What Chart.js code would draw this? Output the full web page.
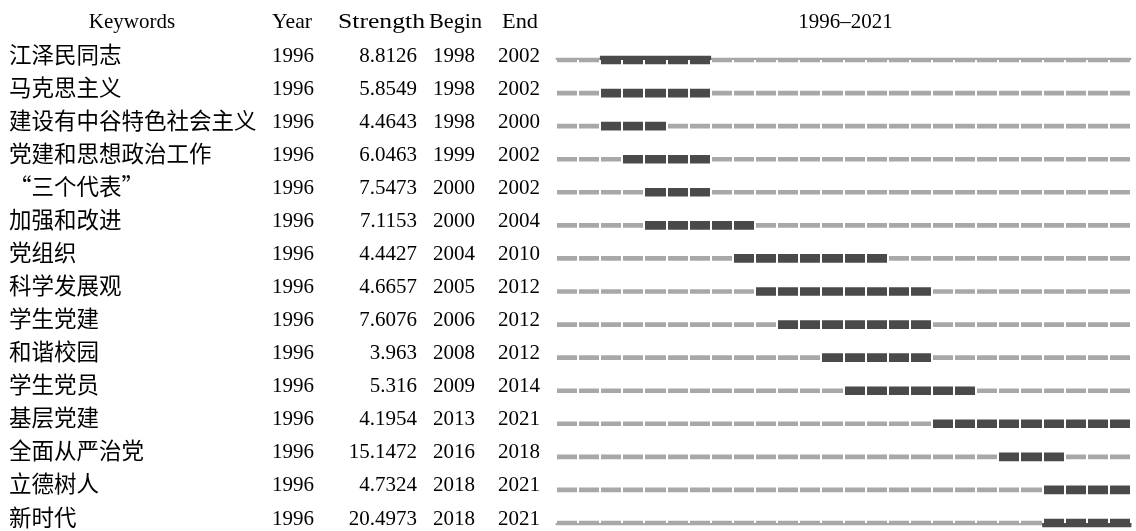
<!DOCTYPE html>
<html>
<head>
<meta charset="utf-8">
<script src="https://cdn.jsdelivr.net/npm/chart.js@4/dist/chart.umd.min.js"></script>
<style>
  html, body { margin: 0; padding: 0; background: #fff; }
  #wrap { width: 1136px; height: 531px; position: relative; }
</style>
</head>
<body>
<div id="wrap"><canvas id="burst_chart"></canvas></div>
<script>
const keywords = ["江泽民同志","马克思主义","建设有中谷特色社会主义","党建和思想政治工作","“三个代表”","加强和改进","党组织","科学发展观","学生党建","和谐校园","学生党员","基层党建","全面从严治党","立德树人","新时代"];
const years = [1996,1996,1996,1996,1996,1996,1996,1996,1996,1996,1996,1996,1996,1996,1996];
const strengths = [8.8126,5.8549,4.4643,6.0463,7.5473,7.1153,4.4427,4.6657,7.6076,3.963,5.316,4.1954,15.1472,4.7324,20.4973];
const begins = [1998,1998,1998,1999,2000,2000,2004,2005,2006,2008,2009,2013,2016,2018,2018];
const ends = [2002,2002,2000,2002,2002,2004,2010,2012,2012,2012,2014,2021,2018,2021,2021];
const firstYear = 1996;
const lastYear = 2021;

// burst = begin..end inclusive, background = whole period
const burstBars = begins.map((b, i) => [b, ends[i] + 1]);
const fullBars = keywords.map(() => [firstYear, lastYear + 1]);

const serif = "'Liberation Serif', 'Times New Roman', serif";
const cjk = "'Noto Sans CJK SC', sans-serif";

// draw text stretched to a given width (header in the original is wide)
function wideText(ctx, txt, x, y, w) {
  const m = ctx.measureText(txt).width;
  ctx.save();
  ctx.translate(x, y);
  ctx.scale(w / m, 1);
  ctx.fillText(txt, 0, 0);
  ctx.restore();
}

const tablePlugin = {
  id: "tableText",
  afterDraw(chart) {
    const ctx = chart.ctx;
    const y = chart.scales.y;
    const x = chart.scales.x;
    ctx.save();
    ctx.fillStyle = "#000";
    ctx.textBaseline = "middle";
    // header
    ctx.font = "21px " + serif;
    ctx.textAlign = "center";
    ctx.fillText("Keywords", 132, 22);
    ctx.fillText(firstYear + "\u2013" + lastYear, (x.left + x.right) / 2 + 2, 22);
    ctx.textAlign = "left";
    wideText(ctx, "Year", 272, 22, 40);
    wideText(ctx, "Strength", 338, 22, 87);
    wideText(ctx, "Begin", 429, 22, 53);
    wideText(ctx, "End", 502, 22, 36);
    // rows
    keywords.forEach((k, i) => {
      const py = y.getPixelForValue(i) - 4;
      ctx.font = "22.5px " + cjk;
      ctx.textAlign = "left";
      ctx.fillText(k, 9, py - 2);
      ctx.font = "21px " + serif;
      ctx.fillText(String(years[i]), 272, py);
      ctx.textAlign = "right";
      ctx.fillText(String(strengths[i]), 417, py);
      ctx.textAlign = "left";
      ctx.fillText(String(begins[i]), 433, py);
      ctx.fillText(String(ends[i]), 498, py);
    });
    ctx.restore();
  }
};

new Chart("burst_chart", {
  type: "bar",
  data: {
    labels: keywords,
    datasets: [{
      data: burstBars,
      backgroundColor: "#4a4a4a",
      barThickness: 8,
      grouped: false,
      clip: false
    }, {
      data: fullBars,
      backgroundColor: "#a8a8a8",
      barThickness: 4,
      grouped: false,
      clip: false
    }]
  },
  options: {
    indexAxis: "y",
    responsive: true,
    maintainAspectRatio: false,
    animation: false,
    layout: { padding: { left: 556, right: 5, top: 60, bottom: 8 } },
    plugins: {
      legend: { display: false },
      tooltip: { enabled: false }
    },
    scales: {
      x: {
        type: "linear",
        min: firstYear,
        max: lastYear + 1,
        ticks: { display: false, stepSize: 1 },
        border: { display: false },
        grid: { color: "#ffffff", lineWidth: 2, drawTicks: false, z: 1 }
      },
      y: {
        display: false,
        offset: false
      }
    }
  },
  plugins: [tablePlugin]
});
</script>
</body>
</html>
